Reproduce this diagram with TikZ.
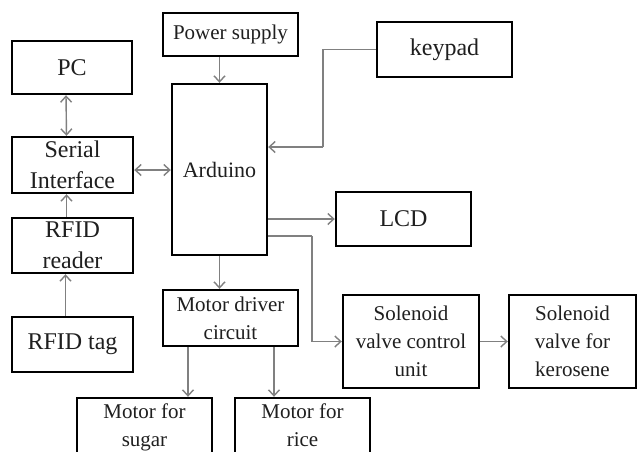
\documentclass[tikz,border=0pt]{standalone}
\usepackage{fontspec}
\setmainfont{Liberation Serif}
\usetikzlibrary{arrows.meta}
\tikzset{
  blk/.style={draw=black, line width=2.4pt, inner sep=0pt, align=center, text=black!88},
  big/.style={font=\fontsize{24}{31}\selectfont},
  mid/.style={font=\fontsize{22}{28}\selectfont},
  sml/.style={font=\fontsize{21}{28}\selectfont},
  con/.style={draw=black!50, line width=1.4pt, -{Straight Barb[length=6pt,width=11pt]}},
  bicon/.style={draw=black!50, line width=1.4pt, {Straight Barb[length=6pt,width=11pt]}-{Straight Barb[length=6pt,width=11pt]}},
  plain/.style={draw=black!50, line width=1.4pt}
}
\begin{document}
\begin{tikzpicture}[x=1pt,y=-1pt]
\useasboundingbox (0,0) rectangle (641,451);
\clip (0,0) rectangle (641,451);
\fill[white] (0,0) rectangle (641,451);
\node[blk,big,minimum width=120pt,minimum height=53pt] (pc) at (72,67.5) {PC};
\node[blk,sml,minimum width=135pt,minimum height=43pt] (power) at (230.5,34.5) {Power supply};
\node[blk,mid,minimum width=95pt,minimum height=171pt] (ard) at (219.5,169.5) {Arduino};
\node[blk,big,minimum width=121pt,minimum height=56pt] (serial) at (72.5,165) {Serial\\Interface};
\node[blk,big,minimum width=135pt,minimum height=55pt] (keypad) at (444.5,49.5) {keypad};
\node[blk,big,minimum width=135pt,minimum height=54pt] (lcd) at (403.5,219) {LCD};
\node[blk,sml,minimum width=136pt,minimum height=93pt] (solc) at (411,341.5) {Solenoid\\valve control\\unit};
\node[blk,sml,minimum width=127pt,minimum height=93pt] (solk) at (572.5,341.5) {Solenoid\\valve for\\kerosene};
\node[blk,big,minimum width=121pt,minimum height=55pt] (reader) at (72.5,245.5) {RFID\\reader};
\node[blk,big,minimum width=121pt,minimum height=55pt] (tag) at (72.5,344.5) {RFID tag};
\node[blk,sml,minimum width=135pt,minimum height=56pt] (driver) at (230.5,318) {Motor driver\\circuit};
\node[blk,sml,minimum width=135pt,minimum height=58pt] (sugar) at (144.5,427) {Motor for\\sugar};
\node[blk,sml,minimum width=135pt,minimum height=58pt] (rice) at (302.5,427) {Motor for\\rice\vphantom{g}};
% connectors
\draw[bicon] ([xshift=-6pt]pc.south) -- ([xshift=-6pt]serial.north);
\draw[bicon] ([yshift=-5pt]serial.east) -- ([yshift=-5pt]serial.east -| ard.west);
\draw[con] ([xshift=-6pt]reader.north) -- ([xshift=-6pt]serial.south);
\draw[con] ([xshift=-7pt]tag.north) -- ([xshift=-7pt]reader.south);
\draw[con] (power.south -| ard.north) -- (ard.north);
\coordinate (kc) at (323,147);
\draw[plain] (keypad.west) -| (kc);
\draw[con] (kc) -- (kc -| ard.east);
\draw[con] (lcd.west -| ard.east) -- (lcd.west);
\coordinate (sc) at (312,236);
\draw[plain] (sc -| ard.east) -- (sc);
\draw[con] (sc) |- (solc.west);
\draw[con] (solc.east) -- (solk.west);
\draw[con] (ard.south) -- (ard.south |- driver.north);
\coordinate (d1) at (188,346);
\coordinate (d2) at (274,346);
\draw[con] (d1 |- driver.south) -- (d1 |- sugar.north);
\draw[con] (d2 |- driver.south) -- (d2 |- rice.north);
\end{tikzpicture}
\end{document}
